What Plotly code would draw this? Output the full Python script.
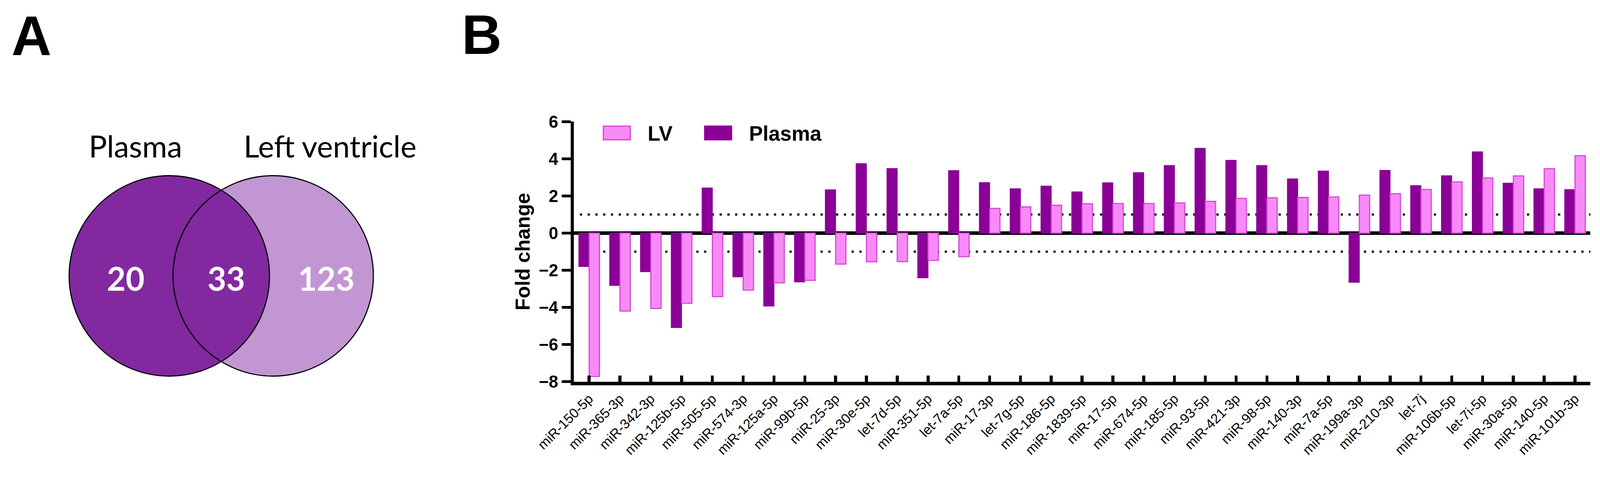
import plotly.graph_objects as go

# ---------------- data ----------------
categories = ["miR-150-5p", "miR-365-3p", "miR-342-3p", "miR-125b-5p", "miR-505-5p",
              "miR-574-3p", "miR-125a-5p", "miR-99b-5p", "miR-25-3p", "miR-30e-5p",
              "let-7d-5p", "miR-351-5p", "let-7a-5p", "miR-17-3p", "let-7g-5p",
              "miR-186-5p", "miR-1839-5p", "miR-17-5p", "miR-674-5p", "miR-185-5p",
              "miR-93-5p", "miR-421-3p", "miR-98-5p", "miR-140-3p", "miR-7a-5p",
              "miR-199a-3p", "miR-210-3p", "let-7j", "miR-106b-5p", "let-7i-5p",
              "miR-30a-5p", "miR-140-5p", "miR-101b-3p"]
plasma_fc = [-1.80, -2.82, -2.08, -5.09, 2.43, -2.36, -3.93, -2.63, 2.33, 3.74,
             3.48, -2.41, 3.37, 2.72, 2.39, 2.53, 2.22, 2.71, 3.26, 3.64,
             4.57, 3.92, 3.64, 2.92, 3.34, -2.65, 3.38, 2.56, 3.09, 4.38,
             2.69, 2.39, 2.34]
lv_fc = [-7.72, -4.20, -4.06, -3.78, -3.42, -3.07, -2.68, -2.54, -1.67, -1.55,
         -1.54, -1.47, -1.27, 1.33, 1.41, 1.50, 1.58, 1.59, 1.59, 1.62,
         1.71, 1.87, 1.90, 1.92, 1.95, 2.05, 2.12, 2.35, 2.76, 2.97,
         3.08, 3.47, 4.17]
y_ticks = [-8, -6, -4, -2, 0, 2, 4, 6]
thresholds = [1, -1]
series_names = ["LV", "Plasma"]

venn_labels = ["Plasma", "Left ventricle"]
venn_counts = [20, 33, 123]          # plasma only, shared, LV only

# ---------------- style ----------------
W, H = 4328, 1236
C_PLASMA = "#8B0096"
C_LV = "#F88AF8"
C_LV_LINE = "#D545D5"
V_PLASMA = "#8229A0"
V_LV = "#C196D2"
ARIAL = "Liberation Sans"
VFONT = "Lato"

fig = go.Figure()

fig.add_trace(go.Bar(x=categories, y=plasma_fc, name=series_names[1],
                     marker=dict(color=C_PLASMA, line=dict(color=C_PLASMA, width=2)),
                     showlegend=False, xaxis="x", yaxis="y"))
fig.add_trace(go.Bar(x=categories, y=lv_fc, name=series_names[0],
                     marker=dict(color=C_LV, line=dict(color=C_LV_LINE, width=3)),
                     showlegend=False, xaxis="x", yaxis="y"))

# plot area in pixels
x_left, x_right = 1552, 4302
y_top, y_bot = 329, 1032

fig.update_layout(
    width=W, height=H,
    margin=dict(l=0, r=0, t=0, b=0),
    paper_bgcolor="white", plot_bgcolor="white",
    barmode="group", bargap=0.33, bargroupgap=0.0,
    showlegend=False,
    xaxis=dict(
        domain=[x_left / W, x_right / W],
        type="category", range=[-0.5, len(categories) - 0.5],
        showline=True, linecolor="black", linewidth=10,
        ticks="inside", ticklen=17, tickwidth=8, tickcolor="black",
        tickangle=-45, tickfont=dict(family=ARIAL, size=37, color="black"),
        showgrid=False, zeroline=False, automargin=False, anchor="y",
    ),
    yaxis=dict(
        domain=[1 - y_bot / H, 1 - y_top / H],
        range=[-8, 6], tickvals=y_ticks,
        showline=True, linecolor="black", linewidth=8,
        ticks="outside", ticklen=25, tickwidth=7, tickcolor="black",
        tickfont=dict(family=ARIAL, size=46, color="black", weight="bold"),
        title=dict(text="Fold change", standoff=10,
                   font=dict(family=ARIAL, size=54, color="black", weight="bold")),
        showgrid=False, zeroline=True, zerolinecolor="black", zerolinewidth=10,
        automargin=False, anchor="x",
    ),
)

# threshold dotted lines
for t in thresholds:
    fig.add_shape(type="line", xref="x domain", yref="y", x0=0.006, x1=1, y0=t, y1=t,
                  line=dict(color="black", width=6, dash="6px,15px"), layer="below")

# legend (drawn manually to match the large swatches)
leg_y0, leg_y1 = 1 - 378 / H, 1 - 341 / H
leg_items = [(1632, 1750, C_LV, C_LV_LINE, series_names[0]),
             (1906, 2024, C_PLASMA, C_PLASMA, series_names[1])]
for bx, tx, fc, lc, name in leg_items:
    fig.add_shape(type="rect", xref="paper", yref="paper",
                  x0=bx / W, x1=(bx + 73) / W, y0=leg_y0, y1=leg_y1,
                  fillcolor=fc, line=dict(color=lc, width=3))
    fig.add_annotation(text=name, xref="paper", yref="paper", x=tx / W, y=1 - 360 / H,
                       xanchor="left", yanchor="middle", showarrow=False,
                       font=dict(family=ARIAL, size=56, color="black", weight="bold"))

# ---------------- Venn diagram (panel A) ----------------
R = 271.0
cx = [458, 739]
cy = 746
fig.update_layout(
    xaxis2=dict(domain=[0, 1300 / W], range=[0, 1300], visible=False, anchor="y2"),
    yaxis2=dict(domain=[0, 1], range=[H, 0], visible=False, anchor="x2"),
)
fig.add_shape(type="circle", xref="x2", yref="y2", x0=cx[1] - R, x1=cx[1] + R,
              y0=cy - R, y1=cy + R, fillcolor=V_LV, line=dict(width=0), layer="above")
fig.add_shape(type="circle", xref="x2", yref="y2", x0=cx[0] - R, x1=cx[0] + R,
              y0=cy - R, y1=cy + R, fillcolor=V_PLASMA, line=dict(width=0), layer="above")
for c in cx:
    fig.add_shape(type="circle", xref="x2", yref="y2", x0=c - R, x1=c + R,
                  y0=cy - R, y1=cy + R, fillcolor="rgba(0,0,0,0)",
                  line=dict(color="black", width=3), layer="above")

fig.add_annotation(text=venn_labels[0], xref="x2", yref="y2", x=366, y=394,
                   showarrow=False, xanchor="center", yanchor="middle",
                   font=dict(family=VFONT, size=82, color="black"))
fig.add_annotation(text=venn_labels[1], xref="x2", yref="y2", x=893, y=394,
                   showarrow=False, xanchor="center", yanchor="middle",
                   font=dict(family=VFONT, size=82, color="black"))
for xpos, n in zip([340, 612, 882], venn_counts):
    fig.add_annotation(text=str(n), xref="x2", yref="y2", x=xpos, y=752,
                       showarrow=False, xanchor="center", yanchor="middle",
                       font=dict(family=VFONT, size=88, color="white", weight="bold"))

# panel letters
fig.add_annotation(text="A", xref="paper", yref="paper", x=85 / W, y=1 - 97 / H,
                   showarrow=False, xanchor="center", yanchor="middle",
                   font=dict(family=ARIAL, size=150, color="black", weight="bold"))
fig.add_annotation(text="B", xref="paper", yref="paper", x=1303 / W, y=1 - 94 / H,
                   showarrow=False, xanchor="center", yanchor="middle",
                   font=dict(family=ARIAL, size=150, color="black", weight="bold"))

# fit the fixed-size figure to the browser viewport (no body margin, no scrollbars)
fit_js = """
(function(){
  document.documentElement.style.margin='0';
  document.body.style.margin='0';
  document.body.style.overflow='hidden';
  document.documentElement.style.overflow='hidden';
  var gd = document.getElementById('{plot_id}');
  var s = Math.min(window.innerWidth / %d, window.innerHeight / %d);
  gd.style.transformOrigin = '0 0';
  gd.style.transform = 'scale(' + s + ')';
})();
""" % (W, H)

fig.write_html("out.html", post_script=fit_js,
               config={"displayModeBar": False, "staticPlot": True})
